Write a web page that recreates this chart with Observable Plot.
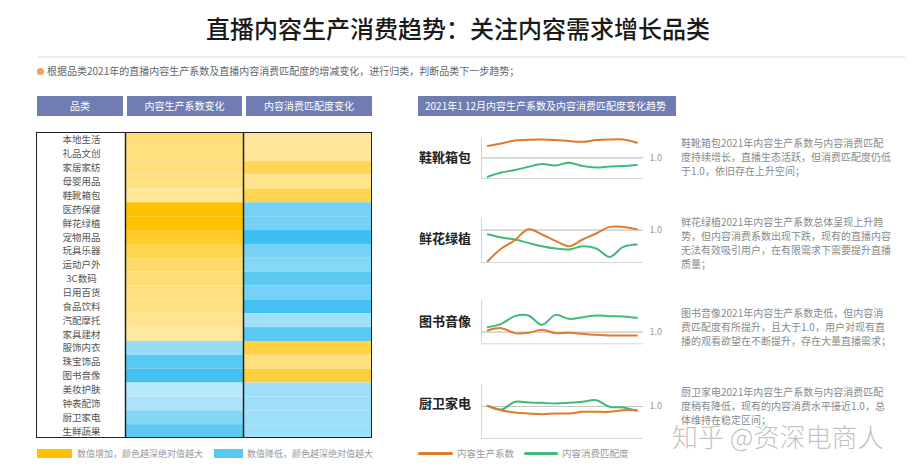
<!DOCTYPE html>
<html><head><meta charset="utf-8">
<script src="https://cdn.jsdelivr.net/npm/d3@7"></script>
<script src="https://cdn.jsdelivr.net/npm/@observablehq/plot@0.6"></script>
<style>
html,body{margin:0;padding:0;background:#fff;}
body{width:916px;height:471px;position:relative;overflow:hidden;font-family:"Noto Sans CJK SC","Noto Sans",sans-serif;}
.abs{position:absolute;white-space:nowrap;}
.bar{position:absolute;background:#6f7db2;color:#fff;font-size:10px;line-height:20px;height:20px;text-align:center;white-space:nowrap;}
.desc{position:absolute;font-size:10px;line-height:14px;color:#8a8a8a;white-space:nowrap;}
.cat{position:absolute;font-size:13px;font-weight:bold;color:#222;line-height:20px;}
.leg{position:absolute;font-size:9px;color:#999;line-height:14px;white-space:nowrap;}
</style></head><body>
<script>
// ---------- data ----------
const titleText = "直播内容生产消费趋势：关注内容需求增长品类";
const noteText = "根据品类2021年的直播内容生产系数及直播内容消费匹配度的增减变化，进行归类，判断品类下一步趋势；";
const columnTitles = ["品类", "内容生产系数变化", "内容消费匹配度变化"];
const categories = ["本地生活","礼品文创","家居家纺","母婴用品","鞋靴箱包","医药保健","鲜花绿植","宠物用品","玩具乐器","运动户外","3C数码","日用百货","食品饮料","汽配摩托","家具建材","服饰内衣","珠宝饰品","图书音像","美妆护肤","钟表配饰","厨卫家电","生鲜蔬果"];
const prodChange = [0.38,0.36,0.36,0.34,0.24,1.0,1.0,0.78,0.6,0.45,0.4,0.36,0.32,0.26,0.18,-0.33,-0.72,-0.85,-0.12,-0.2,-0.45,-0.7];
const consChange = [0.22,0.22,0.55,0.28,0.6,-0.55,-0.55,-0.9,-0.55,-0.45,-0.7,-0.55,-0.85,-0.28,-0.72,0.66,0.35,0.7,-0.3,-0.3,-0.3,-0.3];
const heatLegend = ["数值增加，颜色越深绝对值越大", "数值降低，颜色越深绝对值越大"];

const trendTitle = "2021年1 12月内容生产系数及内容消费匹配度变化趋势";
const months = [1,2,3,4,5,6,7,8,9,10,11,12];
const seriesNames = ["内容生产系数", "内容消费匹配度"];
const trendCategories = ["鞋靴箱包","鲜花绿植","图书音像","厨卫家电"];
const shoesProd   = [1.117,1.143,1.173,1.180,1.183,1.177,1.167,1.160,1.177,1.183,1.183,1.150];
const shoesCons   = [0.810,0.853,0.877,0.910,0.937,0.923,0.950,0.917,0.903,0.913,0.917,0.927];
const flowersProd = [0.690,0.817,0.900,1.010,0.957,0.893,0.840,0.907,0.967,1.033,1.033,1.010];
const flowersCons = [0.960,0.927,0.907,0.873,0.840,0.817,0.807,0.840,0.817,0.733,0.833,0.857];
const booksProd   = [1.017,1.040,0.990,0.993,1.023,0.990,0.993,0.983,0.973,0.967,0.967,0.967];
const booksCons   = [1.050,1.083,1.160,1.167,1.073,1.173,1.133,1.150,1.167,1.160,1.157,1.143];
const kitchenProd = [1.007,0.963,0.940,0.930,0.923,0.930,0.930,0.947,0.947,0.947,0.963,0.963];
const kitchenCons = [1.007,0.970,1.047,1.040,1.037,1.030,1.037,1.047,1.063,0.997,0.990,0.957];
const refLabel = "1.0";
const shoesDesc = ["鞋靴箱包2021年内容生产系数与内容消费匹配","度持续增长，直播生态活跃，但消费匹配度仍低","于1.0，依旧存在上升空间；"];
const flowersDesc = ["鲜花绿植2021年内容生产系数总体呈现上升趋","势，但内容消费系数出现下跌，现有的直播内容","无法有效吸引用户，在有限需求下需要提升直播","质量；"];
const booksDesc = ["图书音像2021年内容生产系数走低，但内容消","费匹配度有所提升，且大于1.0，用户对现有直","播的观看欲望在不断提升，存在大量直播需求；"];
const kitchenDesc = ["厨卫家电2021年内容生产系数与内容消费匹配","度稍有降低，现有的内容消费水平接近1.0，总","体维持在稳定区间；"];
const watermark = "知乎 @资深电商人";

// ---------- layout / style ----------
const ORANGE = "#e27a2c", GREEN = "#3fb97c";
const body = document.body;
function div(cls, html, css) {
  const d = document.createElement("div");
  d.className = cls; d.innerHTML = html; Object.assign(d.style, css); body.appendChild(d); return d;
}
function place(node, left, top) {
  const w = document.createElement("div");
  w.className = "abs"; w.style.left = left + "px"; w.style.top = top + "px";
  w.appendChild(node); body.appendChild(w); return w;
}

// title + rule + note
div("abs", titleText, {left:"0px", top:"12px", width:"916px", textAlign:"center", fontSize:"24px", lineHeight:"32px", color:"#1a1a1a", fontWeight:"500"});
div("abs", "", {left:"37px", top:"56px", width:"868px", height:"2px", background:"#ececec"});
div("abs", "", {left:"37px", top:"67.5px", width:"7px", height:"7px", borderRadius:"50%", background:"#f0a060"});
div("abs", noteText, {left:"47px", top:"64px", fontSize:"10px", lineHeight:"14px", color:"#666"});

// left header bars
[[37,86],[127,115],[246,126]].forEach(([l,w],i) => div("bar", columnTitles[i], {left:l+"px", top:"96px", width:w+"px"}));

// heatmap (column edges are layout: two value columns after the label column)
const colEdges = [0, 118, 247];
const cellRows = categories.flatMap((c,i) => [{cat:c, col:0, v:prodChange[i]}, {cat:c, col:1, v:consChange[i]}]);
const heat = Plot.plot({
  width: 337, height: 307, marginTop: 1, marginBottom: 1, marginLeft: 89, marginRight: 1,
  x: {domain: [0, 247], axis: null},
  y: {domain: categories, axis: null, padding: 0, round: false},
  color: {type: "linear", domain: [-1, -0.001, 0.001, 1], range: ["#2cb9ef", "#cdeffc", "#fff1c4", "#ffc000"]},
  style: {fontFamily: "Noto Sans CJK SC", background: "transparent", overflow: "visible"},
  marks: [
    Plot.barX(cellRows, {x1: d => colEdges[d.col], x2: d => colEdges[d.col + 1], y: "cat", fill: "v", inset: 0}),
    Plot.text(categories, {y: d => d, text: d => d, frameAnchor: "left", dx: -44, textAnchor: "middle", fontSize: 9.5, fill: "#555"}),
    Plot.ruleX([0, colEdges[1]], {stroke: "#222", strokeWidth: 1.5})
  ]
});
place(heat, 36, 132);
// outer box of the table
div("abs", "", {left:"36.25px", top:"132.25px", width:"333.5px", height:"303.8px", border:"1.5px solid #222", boxSizing:"content-box", pointerEvents:"none"});

// heatmap legend
div("abs", "", {left:"37px", top:"449px", width:"35px", height:"9px", background:"#ffc000"});
div("leg", heatLegend[0], {left:"77px", top:"446.5px"});
div("abs", "", {left:"214px", top:"449px", width:"29px", height:"9px", background:"#5ac8f2"});
div("leg", heatLegend[1], {left:"247px", top:"446.5px"});

// right header
div("bar", trendTitle, {left:"418px", top:"96px", width:"258px", textAlign:"left", paddingLeft:"7px", boxSizing:"border-box", fontSize:"10px"});

// trend charts
const xDomain = [0.54, 12.49];
const charts = [
  {name: trendCategories[0], prod: shoesProd, cons: shoesCons, top: 138.3, bottom: 178.3, domain: [0.793, 1.193], labelY: 156.7, desc: shoesDesc, descTop: 135.5},
  {name: trendCategories[1], prod: flowersProd, cons: flowersCons, top: 218.3, bottom: 262.3, domain: [0.677, 1.117], labelY: 238, desc: flowersDesc, descTop: 215},
  {name: trendCategories[2], prod: booksProd, cons: booksCons, top: 300, bottom: 343.3, domain: [0.883, 1.317], labelY: 321, desc: booksDesc, descTop: 305.7},
  {name: trendCategories[3], prod: kitchenProd, cons: kitchenCons, top: 384.3, bottom: 438.3, domain: [0.68, 1.22], labelY: 402.7, desc: kitchenDesc, descTop: 384.7}
];
charts.forEach(c => {
  const h = c.bottom - c.top;
  const p = Plot.plot({
    width: 186, height: h + 4, marginTop: 2, marginBottom: 2, marginLeft: 1, marginRight: 23,
    x: {domain: xDomain, axis: null},
    y: {domain: c.domain, axis: null},
    style: {overflow: "visible", background: "transparent", fontFamily: "Noto Sans CJK SC"},
    marks: [
      Plot.ruleX([xDomain[0]], {stroke: "#d6d6d6"}),
      Plot.ruleY([c.domain[0]], {stroke: "#d6d6d6"}),
      Plot.ruleY([1], {stroke: "#c4c4c4", strokeWidth: 1.2}),
      Plot.text([refLabel], {x: xDomain[1], y: 1, text: d => d, dx: 6, textAnchor: "start", fontSize: 9, fill: "#999"}),
      Plot.line(months, {x: d => d, y: (d, i) => c.cons[i], curve: "catmull-rom", stroke: GREEN, strokeWidth: 2}),
      Plot.line(months, {x: d => d, y: (d, i) => c.prod[i], curve: "catmull-rom", stroke: ORANGE, strokeWidth: 2})
    ]
  });
  place(p, 480, c.top - 2);
  div("cat", c.name, {left: "419px", top: (c.labelY - 10) + "px"});
  div("desc", c.desc.join("<br>"), {left: "681px", top: c.descTop + "px"});
});

// trend legend
div("abs", "", {left:"418px", top:"451.5px", width:"35px", height:"3.5px", background:ORANGE, borderRadius:"2px"});
div("leg", seriesNames[0], {left:"457px", top:"446px", fontSize:"9.5px"});
div("abs", "", {left:"524px", top:"451.5px", width:"34px", height:"3.5px", background:GREEN, borderRadius:"2px"});
div("leg", seriesNames[1], {left:"562px", top:"446px", fontSize:"9.5px"});

// watermark
div("abs", watermark, {left:"672px", top:"419px", fontSize:"26px", lineHeight:"34px", color:"rgba(175,175,175,0.75)", fontWeight:"300"});
</script>
</body></html>
